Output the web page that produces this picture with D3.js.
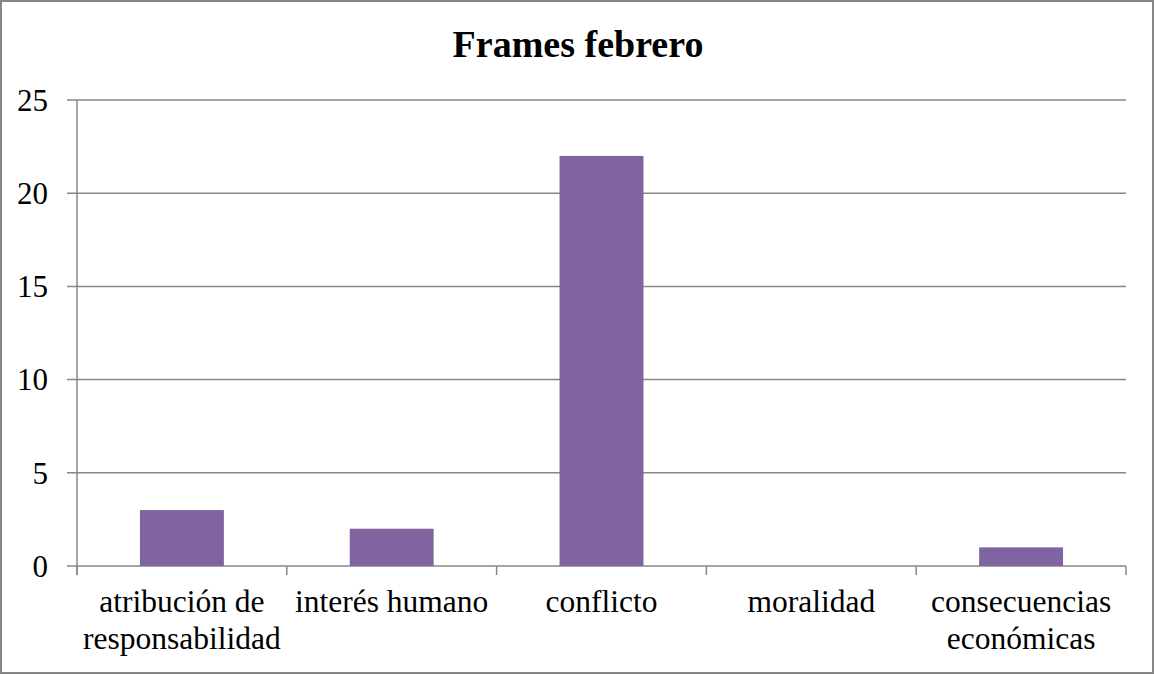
<!DOCTYPE html>
<html><head><meta charset="utf-8">
<script src="https://cdn.jsdelivr.net/npm/d3@7"></script>
<style>body{margin:0;background:#fff}svg{display:block}</style>
</head><body>
<script>
const title = "Frames febrero";
const categories = [["atribución de","responsabilidad"],["interés humano"],["conflicto"],["moralidad"],["consecuencias","económicas"]];
const values = [3, 2, 22, 0, 1];
const yTicks = [0, 5, 10, 15, 20, 25];

const W = 1154, H = 675;
const m = {left: 77, right: 1126, top: 100, bottom: 566};
const font = "Liberation Serif, Times New Roman, Times, Tinos, DejaVu Serif, serif";
const grey = "#878787";

const svg = d3.select("body").append("svg").attr("width", W).attr("height", H);
svg.append("rect").attr("x",1).attr("y",1).attr("width",W-2).attr("height",H-3)
  .attr("fill","#fff").attr("stroke","#868686").attr("stroke-width",2);

const x = d3.scaleBand().domain(d3.range(categories.length)).range([m.left, m.right]).padding(0);
const y = d3.scaleLinear().domain([0, 25]).range([m.bottom, m.top]);

svg.append("g").selectAll("line").data(yTicks).join("line")
  .attr("x1", m.left - 10).attr("x2", m.right)
  .attr("y1", d => y(d)).attr("y2", d => y(d))
  .attr("stroke", grey).attr("stroke-width", 1.5);

svg.append("line").attr("x1", m.left).attr("x2", m.left).attr("y1", y(25)).attr("y2", y(0) + 9)
  .attr("stroke", grey).attr("stroke-width", 1.5);

svg.append("g").selectAll("text").data(yTicks).join("text")
  .attr("x", 48).attr("y", d => y(d)).attr("dy", "0.35em")
  .attr("text-anchor", "end").style("font-family", font).attr("font-size", 31).attr("fill", "#000")
  .text(d => d);

const bounds = d3.range(categories.length + 1).map(i => i < categories.length ? x(i) : m.right);
svg.append("g").selectAll("line").data(bounds).join("line")
  .attr("x1", d => d).attr("x2", d => d).attr("y1", y(0)).attr("y2", y(0) + 9)
  .attr("stroke", grey).attr("stroke-width", 1.5);

const bw = x.bandwidth() * 0.4;
svg.append("g").selectAll("rect").data(values).join("rect")
  .attr("x", (d, i) => x(i) + (x.bandwidth() - bw) / 2)
  .attr("width", bw)
  .attr("y", d => y(d)).attr("height", d => y(0) - y(d))
  .attr("fill", "#8064A2");

const xl = svg.append("g").selectAll("text").data(categories).join("text")
  .attr("x", (d, i) => x(i) + x.bandwidth() / 2).attr("y", 612)
  .attr("text-anchor", "middle").style("font-family", font).attr("font-size", 31.5).attr("fill", "#000");
xl.selectAll("tspan").data(d => d).join("tspan")
  .attr("x", function() { return this.parentNode.getAttribute("x"); })
  .attr("dy", (d, i) => i === 0 ? 0 : 37)
  .text(d => d);

svg.append("text").attr("x", 578).attr("y", 57).attr("text-anchor", "middle")
  .style("font-family", font).attr("font-size", 38).attr("font-weight", "bold").attr("fill", "#000")
  .text(title);
</script>
</body></html>
